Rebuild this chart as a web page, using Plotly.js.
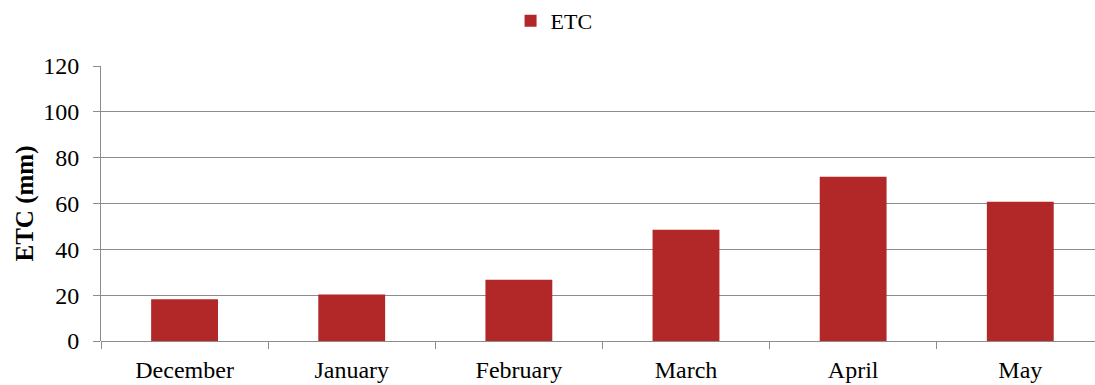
<!DOCTYPE html>
<html>
<head>
<meta charset="utf-8">
<script src="https://cdn.plot.ly/plotly-3.0.1.min.js"></script>
<style>
  html, body { margin: 0; padding: 0; background: #fff; }
  #chart { width: 1095px; height: 385px; }
</style>
</head>
<body>
<div id="chart"></div>
<script>
// Monthly crop evapotranspiration
const months = ["December", "January", "February", "March", "April", "May"];
const etcValues = [18.2, 20.3, 26.7, 48.5, 71.7, 60.8];
const yTicks = [0, 20, 40, 60, 80, 100, 120];

const serif = "'Liberation Serif', 'Times New Roman', serif";
const gridGray = "#8c8c8c";

const trace = {
  type: "bar",
  name: "ETC",
  x: months,
  y: etcValues,
  width: 0.4,
  marker: { color: "#b22727", line: { width: 0 } },
  hoverinfo: "x+y"
};

const layout = {
  width: 1095,
  height: 385,
  margin: { l: 101, r: 0, t: 66, b: 44, pad: 0 },
  paper_bgcolor: "#ffffff",
  plot_bgcolor: "#ffffff",
  font: { family: serif, color: "#000000", size: 24 },
  showlegend: true,
  legend: {
    orientation: "h",
    x: 0.506, xref: "container", xanchor: "center",
    y: 1.0, yref: "container", yanchor: "top",
    font: { family: serif, size: 22, color: "#000" },
    itemwidth: 30,
    bgcolor: "rgba(0,0,0,0)"
  },
  xaxis: {
    type: "category",
    range: [-0.5, 5.447],
    showgrid: false,
    zeroline: false,
    showline: false,
    ticks: "outside",
    tickson: "boundaries",
    ticklen: 7,
    tickwidth: 1,
    tickcolor: gridGray,
    ticklabelstandoff: 12,
    tickfont: { family: serif, size: 24, color: "#000" },
    fixedrange: true
  },
  yaxis: {
    range: [0, 120],
    tickvals: yTicks,
    ticktext: yTicks.map(String),
    showgrid: true,
    gridcolor: gridGray,
    gridwidth: 1,
    zeroline: true,
    zerolinecolor: gridGray,
    zerolinewidth: 1,
    showline: true,
    linecolor: gridGray,
    linewidth: 1,
    ticks: "outside",
    ticklen: 7,
    tickwidth: 1,
    tickcolor: gridGray,
    ticklabelstandoff: 9,
    tickfont: { family: serif, size: 24, color: "#000" },
    title: {
      text: "<b>ETC (mm)</b>",
      font: { family: serif, size: 25, color: "#000" },
      standoff: 2
    },
    fixedrange: true
  },
  bargap: 0.6
};

Plotly.newPlot("chart", [trace], layout, { displayModeBar: false, staticPlot: true });
</script>
</body>
</html>
